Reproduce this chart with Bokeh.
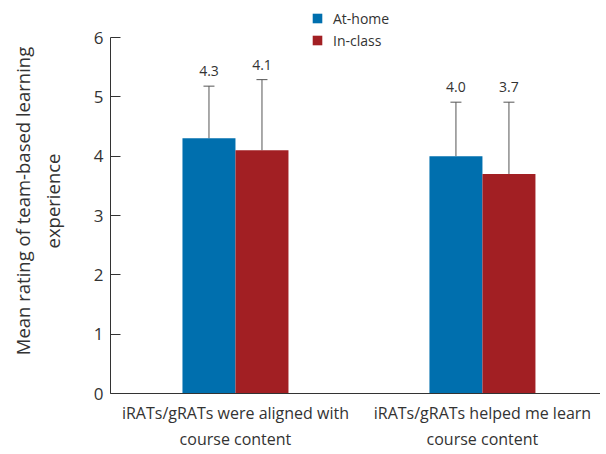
from bokeh.plotting import figure
from bokeh.models import ColumnDataSource, Whisker, TeeHead, LabelSet, Legend, LegendItem, FixedTicker, Range1d
from bokeh.core.properties import value
from bokeh.embed import file_html
from bokeh.resources import INLINE

categories = ["iRATs/gRATs were aligned with\ncourse content",
              "iRATs/gRATs helped me learn\ncourse content"]
series_names = ["At-home", "In-class"]
at_home = [4.3, 4.0]
in_class = [4.1, 3.7]
at_home_upper = [5.18, 4.91]
in_class_upper = [5.29, 4.91]
y_ticks = [0, 1, 2, 3, 4, 5, 6]

BLUE = "#006FAE"
RED = "#A21F23"
FONT = "Open Sans"

p = figure(frame_width=490, frame_height=385, output_backend="svg", toolbar_location=None,
           x_range=Range1d(0.494, 2.478), y_range=Range1d(0, 6 + 29 / (356 / 6)),
           min_border_left=110, min_border_right=0, min_border_top=8, min_border_bottom=50)
p.outline_line_color = None
p.xgrid.visible = False
p.ygrid.visible = False

centers = [1, 2]
bw = 0.2146
x_home = [c - bw / 2 for c in centers]
x_class = [c + bw / 2 for c in centers]

src_h = ColumnDataSource(dict(x=x_home, top=at_home, upper=at_home_upper,
                              lab=[f"{v:.1f}" for v in at_home]))
src_c = ColumnDataSource(dict(x=x_class, top=in_class, upper=in_class_upper,
                              lab=[f"{v:.1f}" for v in in_class]))

r1 = p.vbar(x="x", top="top", width=bw, source=src_h, fill_color=BLUE, line_color=None)
r2 = p.vbar(x="x", top="top", width=bw, source=src_c, fill_color=RED, line_color=None)

for src in (src_h, src_c):
    w = Whisker(base="x", upper="upper", lower="top", source=src,
                line_color="#555555", line_width=1,
                upper_head=TeeHead(size=11, line_color="#555555", line_width=1),
                lower_head=None)
    p.add_layout(w)
    lbl = LabelSet(x="x", y="upper", text="lab", source=src, y_offset=10,
                   text_align="center", text_baseline="bottom",
                   text_font=value(FONT), text_font_size=value("14px"), text_color="#333333")
    p.add_layout(lbl)

legend = Legend(items=[LegendItem(label=series_names[0], renderers=[r1]),
                       LegendItem(label=series_names[1], renderers=[r2])],
                location=(201, 343), orientation="vertical",
                glyph_width=12, glyph_height=12, label_height=20, spacing=2,
                padding=0, margin=0, label_standoff=10,
                label_text_font=FONT, label_text_font_size="14px", label_text_color="#333333",
                border_line_color=None, background_fill_alpha=0)
p.add_layout(legend, "center")

# y axis
p.yaxis.ticker = FixedTicker(ticks=y_ticks)
p.yaxis.bounds = (0, 6)
p.yaxis.major_tick_in = 10
p.yaxis.major_tick_out = 0
p.yaxis.minor_tick_line_color = None
p.yaxis.major_label_standoff = 7
p.yaxis.major_label_text_font = FONT
p.yaxis.major_label_text_font_size = "17px"
p.yaxis.major_label_text_color = "#333333"
p.yaxis.axis_line_color = "#333333"
p.yaxis.major_tick_line_color = "#333333"
p.yaxis.axis_label = "Mean rating of team-based learning\nexperience"
p.yaxis.axis_label_text_font = FONT
p.yaxis.axis_label_text_font_size = "18.5px"
p.yaxis.axis_label_text_font_style = "normal"
p.yaxis.axis_label_text_color = "#333333"
p.yaxis.axis_label_standoff = 26

# x axis
p.xaxis.ticker = FixedTicker(ticks=centers)
p.xaxis.major_label_overrides = {c: lab for c, lab in zip(centers, categories)}
p.xaxis.major_tick_line_color = None
p.xaxis.minor_tick_line_color = None
p.xaxis.major_tick_in = 0
p.xaxis.major_tick_out = 0
p.xaxis.major_label_standoff = 8
p.xaxis.major_label_text_font = FONT
p.xaxis.major_label_text_font_size = "16px"
p.xaxis.major_label_text_color = "#333333"
p.xaxis.axis_line_color = "#333333"

open("out.html", "w").write(file_html(p, INLINE))
